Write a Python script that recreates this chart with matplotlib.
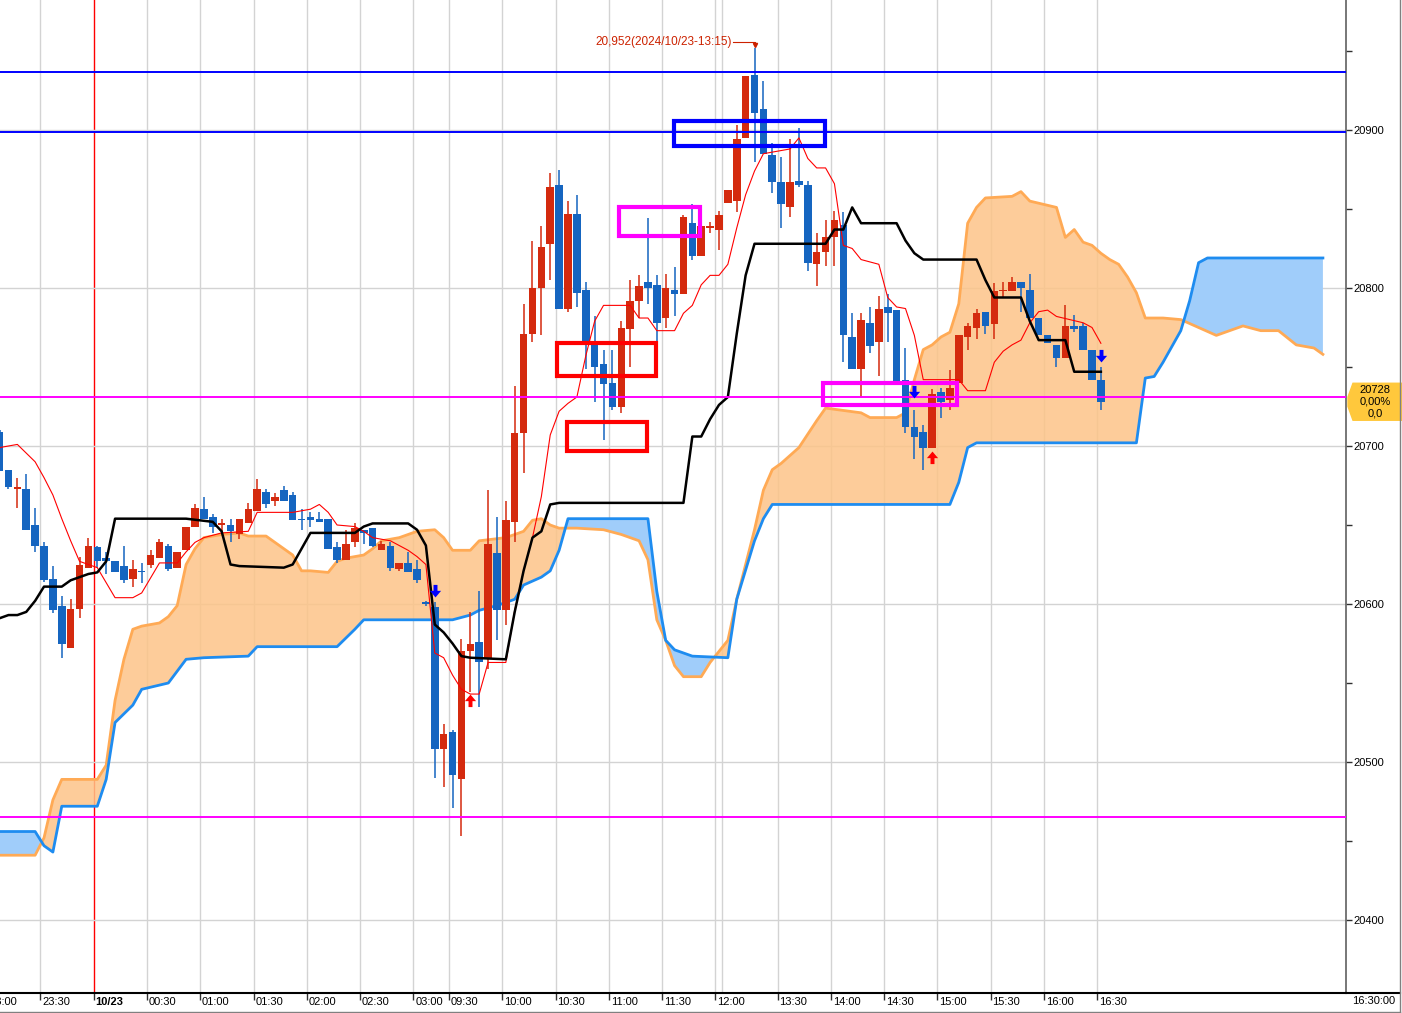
import numpy as np
import matplotlib
matplotlib.use('Agg')
import matplotlib.pyplot as plt
from matplotlib.patches import Rectangle, Polygon
from matplotlib.path import Path
from matplotlib.lines import Line2D

plt.rcParams['font.family'] = ['Liberation Sans', 'DejaVu Sans']

# 5-minute candles, index 0 = 23:30 bar
idx = np.arange(-5, 120)
opens = [20709, 20685, 20673, 20673, 20650, 20637, 20616, 20599, 20572, 20597,
         20623, 20636, 20629, 20627, 20624, 20616, 20621, 20625, 20629, 20637,
         20623, 20634, 20649, 20660, 20655, 20650, 20650, 20644, 20651, 20659,
         20671, 20665, 20672, 20669, 20654, 20655, 20654, 20654, 20636, 20628,
         20639, 20647, 20648, 20634, 20637, 20622, 20626, 20622, 20601, 20598,
         20508, 20519, 20489, 20570, 20576, 20565, 20632, 20596, 20652, 20708,
         20771, 20800, 20828, 20865, 20787, 20847, 20799, 20766, 20752, 20740,
         20725, 20774, 20792, 20804, 20802, 20781, 20799, 20796, 20841, 20820,
         20838, 20837, 20854, 20855, 20895, 20935, 20913, 20884, 20867, 20851,
         20868, 20865, 20815, 20823, 20832, 20840, 20769, 20749, 20778, 20766,
         20788, 20786, 20742, 20712, 20709, 20699, 20734, 20729, 20740, 20769,
         20775, 20785, 20777, 20798, 20798, 20804, 20799, 20781, 20770, 20764,
         20756, 20776, 20776, 20761, 20742]
highs = [20710, 20685, 20680, 20682, 20661, 20639, 20624, 20605, 20603, 20630,
         20642, 20637, 20633, 20627, 20637, 20628, 20626, 20634, 20641, 20638,
         20633, 20649, 20663, 20668, 20657, 20654, 20654, 20654, 20664, 20679,
         20673, 20670, 20675, 20671, 20660, 20658, 20658, 20654, 20639, 20647,
         20651, 20647, 20648, 20640, 20639, 20626, 20633, 20628, 20602, 20601,
         20524, 20520, 20578, 20595, 20608, 20672, 20655, 20665, 20738, 20790,
         20830, 20839, 20873, 20875, 20855, 20859, 20804, 20782, 20761, 20761,
         20779, 20805, 20808, 20844, 20808, 20809, 20813, 20846, 20853, 20839,
         20842, 20849, 20862, 20903, 20934, 20952, 20931, 20892, 20883, 20894,
         20901, 20868, 20835, 20843, 20849, 20848, 20784, 20784, 20788, 20795,
         20796, 20786, 20762, 20723, 20713, 20736, 20737, 20748, 20770, 20778,
         20787, 20785, 20803, 20804, 20807, 20804, 20809, 20781, 20770, 20764,
         20789, 20783, 20778, 20761, 20750]
lows = [20684, 20673, 20661, 20647, 20633, 20614, 20594, 20566, 20572, 20591,
        20623, 20623, 20619, 20620, 20613, 20611, 20613, 20623, 20629, 20621,
        20623, 20634, 20649, 20654, 20645, 20645, 20639, 20641, 20651, 20659,
        20661, 20662, 20665, 20653, 20647, 20649, 20652, 20635, 20626, 20628,
        20636, 20638, 20636, 20634, 20621, 20621, 20620, 20613, 20599, 20490,
        20484, 20471, 20453, 20544, 20535, 20559, 20577, 20587, 20639, 20683,
        20766, 20770, 20805, 20787, 20785, 20788, 20749, 20728, 20704, 20723,
        20721, 20750, 20781, 20790, 20766, 20775, 20782, 20796, 20818, 20820,
        20835, 20824, 20854, 20848, 20895, 20880, 20885, 20860, 20838, 20845,
        20864, 20811, 20801, 20814, 20814, 20753, 20749, 20731, 20759, 20744,
        20766, 20741, 20708, 20692, 20685, 20699, 20718, 20723, 20740, 20761,
        20768, 20771, 20768, 20794, 20798, 20785, 20781, 20770, 20765, 20750,
        20756, 20772, 20761, 20742, 20723]
closes = [20684, 20674, 20674, 20647, 20637, 20615, 20596, 20575, 20597, 20625,
          20637, 20627, 20627, 20620, 20615, 20622, 20620, 20631, 20639, 20622,
          20633, 20649, 20661, 20654, 20649, 20651, 20646, 20654, 20660, 20673,
          20663, 20668, 20665, 20653, 20653, 20653, 20652, 20635, 20628, 20638,
          20648, 20645, 20637, 20638, 20623, 20626, 20620, 20615, 20600, 20508,
          20518, 20492, 20570, 20575, 20563, 20638, 20596, 20653, 20708, 20771,
          20800, 20826, 20864, 20787, 20847, 20797, 20765, 20750, 20739, 20725,
          20775, 20792, 20801, 20800, 20778, 20800, 20796, 20845, 20820, 20839,
          20839, 20846, 20862, 20894, 20934, 20911, 20885, 20867, 20853, 20867,
          20865, 20816, 20823, 20832, 20843, 20770, 20749, 20780, 20763, 20787,
          20784, 20741, 20712, 20706, 20699, 20733, 20728, 20737, 20770, 20776,
          20784, 20776, 20798, 20799, 20804, 20800, 20781, 20770, 20765, 20756,
          20776, 20774, 20761, 20742, 20728]

# conversion line (red) and base line (black), read at vertices
tenkan_i = [-5, -3, -1, 0, 1, 2, 3, 4, 6, 8, 10, 11, 13, 15, 16, 17, 18, 20, 23, 24,
            28, 30, 31, 32, 33, 35, 36, 37, 39, 40, 41, 42, 43, 44, 45, 46, 47, 48, 49, 50,
            52, 53, 54, 55, 56, 57, 58, 59, 60, 61, 62, 63, 66, 67, 68, 69, 71, 72, 73, 74,
            75, 76, 77, 78, 79, 80, 81, 83, 84, 85, 86, 87, 88, 89, 90, 91, 92, 94, 95, 96,
            97, 98, 99, 103, 104, 106, 107, 108, 109, 110, 111, 112, 113, 114, 117, 118, 119]
tenkan_v = [20699, 20701, 20690, 20680, 20669, 20654, 20640, 20627, 20623, 20604,
            20604, 20607, 20626, 20626, 20633, 20639, 20642, 20645, 20646, 20658,
            20658, 20660, 20663, 20658, 20650, 20649, 20646, 20642, 20640, 20637,
            20634, 20630, 20625, 20569, 20566, 20555, 20546, 20543, 20543, 20563,
            20563, 20596, 20621, 20642, 20668, 20707, 20722, 20727, 20731, 20757,
            20779, 20789, 20789, 20781, 20781, 20773, 20773, 20784, 20789, 20802,
            20808, 20808, 20815, 20838, 20859, 20874, 20885, 20887, 20888, 20895,
            20882, 20876, 20876, 20866, 20827, 20825, 20818, 20815, 20794, 20788,
            20787, 20770, 20742, 20742, 20735, 20735, 20753, 20760, 20764, 20767,
            20778, 20785, 20786, 20782, 20778, 20775, 20765]
kijun_i = [-5, -4, -3, -2, -1, 0, 2, 3, 5, 6, 7, 8, 16, 19, 20, 21, 22, 27, 28, 30,
           35, 36, 37, 41, 42, 43, 44, 45, 46, 47, 48, 52, 53, 54, 55, 56, 57, 58, 72, 73,
           74, 75, 76, 77, 78, 79, 80, 88, 89, 90, 91, 92, 96, 97, 98, 99, 105, 106, 107, 110,
           111, 112, 115, 116, 119]
kijun_v = [20591, 20593, 20593, 20595, 20602, 20611, 20611, 20615, 20619, 20620,
           20627, 20654, 20654, 20652, 20646, 20625, 20624, 20623, 20625, 20645,
           20645, 20649, 20651, 20651, 20647, 20637, 20587, 20582, 20575, 20567,
           20566, 20565, 20595, 20621, 20642, 20646, 20663, 20664, 20664, 20706,
           20706, 20717, 20726, 20731, 20771, 20808, 20828, 20828, 20837, 20837,
           20851, 20841, 20841, 20830, 20822, 20818, 20818, 20805, 20794, 20794,
           20779, 20767, 20767, 20747, 20747]

# leading spans (cloud)
spanA_i = [-5, -1, 0, 1, 2, 6, 7, 8, 9, 10, 11, 13, 14, 15, 16, 17, 18, 20, 22, 23,
           25, 26, 28, 29, 30, 32, 33, 34, 36, 37, 38, 40, 41, 42, 44, 45, 46, 48, 49, 52,
           54, 55, 56, 57, 58, 60, 63, 65, 67, 68, 69, 70, 71, 72, 74, 75, 77, 78, 80, 81,
           82, 83, 85, 87, 88, 92, 93, 96, 97, 98, 99, 100, 101, 102, 103, 104, 105, 106, 109, 110,
           111, 114, 115, 116, 117, 118, 119, 120, 121, 122, 123, 124, 126, 128, 130, 132, 135, 137, 139, 141,
           143, 144]
spanA_v = [20441, 20441, 20452, 20476, 20489, 20489, 20498, 20539, 20565, 20584,
           20586, 20588, 20592, 20599, 20625, 20635, 20642, 20644, 20645, 20643,
           20643, 20639, 20631, 20621, 20621, 20620, 20627, 20629, 20631, 20635,
           20640, 20642, 20644, 20646, 20647, 20642, 20634, 20634, 20640, 20642,
           20646, 20653, 20654, 20650, 20648, 20648, 20647, 20644, 20640, 20628,
           20590, 20577, 20561, 20554, 20554, 20563, 20577, 20603, 20647, 20672,
           20685, 20689, 20699, 20716, 20724, 20721, 20718, 20718, 20721, 20742,
           20761, 20764, 20769, 20772, 20790, 20841, 20851, 20857, 20858, 20861,
           20855, 20851, 20832, 20837, 20829, 20827, 20822, 20818, 20815, 20807,
           20797, 20781, 20781, 20780, 20775, 20770, 20776, 20773, 20773, 20764,
           20762, 20758]
spanB_i = [-5, -1, 0, 1, 2, 6, 7, 8, 10, 11, 14, 16, 18, 23, 24, 33, 35, 36, 46, 48,
           49, 51, 53, 54, 56, 57, 58, 59, 68, 69, 70, 71, 73, 77, 78, 80, 81, 82, 102, 103,
           104, 105, 123, 124, 125, 126, 128, 129, 130, 131, 144]
spanB_v = [20456, 20456, 20447, 20443, 20472, 20472, 20489, 20525, 20536, 20546,
           20550, 20565, 20566, 20567, 20573, 20573, 20584, 20590, 20590, 20593,
           20596, 20599, 20603, 20612, 20617, 20621, 20634, 20654, 20654, 20608,
           20577, 20571, 20567, 20566, 20603, 20640, 20654, 20663, 20663, 20677,
           20699, 20702, 20702, 20743, 20744, 20753, 20773, 20792, 20816, 20819,
           20819]

hline_blue = [20937, 20899]
hline_magenta = [20731, 20465]

# marked boxes: (left idx, right idx, low, high, colour)
boxes = [(70.9, 87.9, 20890, 20906, '#0000ff'),
         (64.75, 73.9, 20833, 20851, '#ff00ff'),
         (57.8, 68.9, 20744, 20765, '#ff0000'),
         (58.9, 67.9, 20697, 20715, '#ff0000'),
         (87.7, 102.8, 20726, 20740, '#ff00ff')]

down_i = [44, 98, 119]
down_p = [20608, 20734, 20757]
up_i = [48, 100]
up_p = [20539, 20693]

tick_idx = [-6, 0, 6, 12, 18, 24, 30, 36, 42, 46, 52, 58, 64, 70, 76, 83, 89, 95, 101, 107, 113, 119]
tick_lab = ['23:00', '23:30', '10/23', '00:30', '01:00', '01:30', '02:00', '02:30', '03:00', '09:30',
            '10:00', '10:30', '11:00', '11:30', '12:00', '13:30', '14:00', '14:30', '15:00', '15:30',
            '16:00', '16:30']

last_price = 20728
high_label = '20,952(2024/10/23-13:15)'

RED = '#d42a0e'
BLUE = '#1565c0'

W, H = 1402, 1013
fig = plt.figure(figsize=(W / 100, H / 100), dpi=100)
ax = fig.add_axes([0, 20 / H, 1346 / W, 993 / H])

# grid
tick_pos = [t - 0.4 for t in tick_idx]
for t, lab in zip(tick_pos, tick_lab):
    if lab == '10/23':
        ax.axvline(t, color='#ff0000', lw=1, zorder=0.5)
    else:
        ax.axvline(t, color='#d3d3d3', lw=1, zorder=0.5)
ax.axvline(76.35, color='#d3d3d3', lw=1, zorder=0.5)
for p in range(20400, 20901, 100):
    ax.axhline(p, color='#d3d3d3', lw=1, zorder=0.5)

# cloud
xs = np.linspace(-5, 144, 4000)
a = np.interp(xs, spanA_i, spanA_v)
b = np.interp(xs, spanB_i, spanB_v)
ax.fill_between(xs, a, b, where=a >= b, interpolate=True, color='#fdc488', alpha=0.85, lw=0, zorder=1)
ax.fill_between(xs, a, b, where=b > a, interpolate=True, color='#a0cdfa', lw=0, zorder=1)
ax.plot(spanA_i, spanA_v, color='#ffaa55', lw=2, zorder=2)
ax.plot(spanB_i, spanB_v, color='#1e8cf0', lw=2, zorder=2)

# candles
o = np.array(opens); h = np.array(highs); l = np.array(lows); c = np.array(closes)
cols = [RED if cc >= oo else BLUE for oo, cc in zip(o, c)]
ax.vlines(idx, l, h, colors=cols, lw=1.1, zorder=4)
ax.bar(idx, np.maximum(np.abs(c - o), 0.8), width=0.85, bottom=np.minimum(o, c),
       color=cols, lw=0, zorder=5)

ax.plot(tenkan_i, tenkan_v, color='#ff0000', lw=0.8, zorder=6)
ax.plot(kijun_i, kijun_v, color='#000000', lw=1.8, zorder=6)

for p in hline_blue:
    ax.axhline(p, color='#0000ff', lw=1.4, zorder=7)
for p in hline_magenta:
    ax.axhline(p, color='#ff00ff', lw=1.4, zorder=7)
for x0, x1, p0, p1, col in boxes:
    ax.add_patch(Rectangle((x0, p0), x1 - x0, p1 - p0, fill=False, ec=col, lw=3, zorder=7))

down = Path([(-0.3, 1), (0.3, 1), (0.3, 0.1), (0.85, 0.1), (0, -0.9), (-0.85, 0.1), (-0.3, 0.1), (-0.3, 1)],
            [Path.MOVETO] + [Path.LINETO] * 6 + [Path.CLOSEPOLY])
up = Path([(-0.3, -1), (0.3, -1), (0.3, -0.1), (0.85, -0.1), (0, 0.9), (-0.85, -0.1), (-0.3, -0.1), (-0.3, -1)],
          [Path.MOVETO] + [Path.LINETO] * 6 + [Path.CLOSEPOLY])
ax.scatter(down_i, down_p, marker=down, s=90, color='#0000ff', lw=0, zorder=8)
ax.scatter(up_i, up_p, marker=up, s=90, color='#ff0000', lw=0, zorder=8)

# high annotation
ax.text(77.5, 20956, high_label, color='#cc2200', fontsize=8.5, ha='right', va='center', zorder=9)
ax.plot([77.6, 80, 80], [20956, 20956, 20954], color='#cc2200', lw=0.8, zorder=9)
ax.plot([80], [20953.5], marker='v', ms=3, color='#cc2200', zorder=9)

# axes styling
for s in ['top', 'left']:
    ax.spines[s].set_visible(False)
ax.spines['bottom'].set_color('#000000')
ax.spines['bottom'].set_linewidth(1.5)
ax.spines['right'].set_color('#606060')
ax.spines['right'].set_linewidth(1.2)

ax.yaxis.tick_right()
ax.set_yticks(range(20400, 20901, 100))
ax.set_yticklabels([str(p) for p in range(20400, 20901, 100)])
ax.set_yticks(range(20400, 20951, 50), minor=True)
ax.tick_params(axis='y', which='both', length=4, width=1, pad=1, labelsize=8, color='#303030')
ax.set_xticks(tick_pos)
ax.set_xticklabels([])
ax.tick_params(axis='x', length=5, width=1, color='#303030')
tr = ax.get_xaxis_transform()
for t, lab in zip(tick_pos, tick_lab):
    ax.text(t + 0.2, -0.004, lab, transform=tr, ha='left', va='top', fontsize=8,
            fontweight='bold' if lab == '10/23' else 'normal', clip_on=False)

# limits last, so that ticks outside the view do not widen it
ax.set_xlim(-4.955, 146.6)
ax.set_ylim(20900 - (993 - 130) / 1.58, 20900 + 130 / 1.58)

# price box on the right
ytr = ax.get_yaxis_transform()
px = 1 / 1346
hp = 18.5 / 1.58
box = Polygon([(1 + 2 * px, last_price + 3), (1 + 7 * px, last_price + hp), (1 + 56 * px, last_price + hp),
               (1 + 56 * px, last_price - hp), (1 + 7 * px, last_price - hp), (1 + 2 * px, last_price - 3)],
              closed=True, transform=ytr, color='#ffc83c', clip_on=False, zorder=10)
ax.add_patch(box)
for dy, txt in [(7.4, str(last_price)), (0, '0,00%'), (-7.4, '0,0')]:
    ax.text(1 + 29 * px, last_price + dy, txt, transform=ytr, ha='center', va='center',
            fontsize=8, color='#000000', clip_on=False, zorder=11)

fig.text(1352 / W, 1 - 996 / H, '16:30:00', ha='left', va='top', fontsize=8)
fig.add_artist(Line2D([1346 / W, 1400 / W], [20 / H, 20 / H], color='#000000', lw=1.5))
fig.add_artist(Line2D([1400 / W, 1400 / W], [1.5 / H, 1], color='#808080', lw=1))
fig.add_artist(Line2D([0, 1400 / W], [1.5 / H, 1.5 / H], color='#808080', lw=1))

fig.savefig('out.png', dpi=100)
